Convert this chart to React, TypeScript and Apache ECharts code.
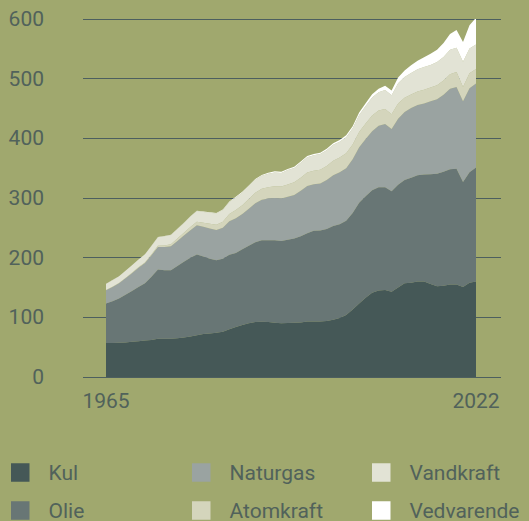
import React, { useEffect, useRef } from "react";
import * as echarts from "echarts";

const years: string[] = Array.from({ length: 58 }, (_, i) => String(1965 + i));

const kul = [
  57, 57, 57.5, 58, 59, 60, 61, 62, 64, 64,
  64, 65, 66, 68, 70, 72, 73, 74, 76, 80,
  84, 87, 90, 92, 92.5, 92, 91, 90, 90.5, 91,
  91.5, 93, 93, 93, 94, 96, 99, 104, 113, 123,
  133, 141, 145, 146, 143, 150, 157, 158, 160, 160,
  156, 152, 153, 155, 155, 151, 158, 160,
];
const olie = [
  66, 70, 74, 80, 85, 91, 96, 106, 116, 115,
  115, 121, 127, 132, 135.5, 130, 125, 121.5, 122, 125,
  124, 127, 130, 134, 136.5, 137, 138, 138, 139.5, 141,
  144.5, 148, 152, 152.5, 154, 157, 157, 158, 162, 169,
  170, 172, 173, 172, 168.5, 172, 173, 176, 178, 179.5,
  184, 188.5, 191, 193, 194, 176, 185, 191,
];
const naturgas = [
  22.5, 24, 25.5, 27.5, 30, 32, 34, 36, 38, 39,
  40, 42, 44, 46, 49, 50, 51, 51, 52, 56,
  58, 59, 62, 65, 68, 70, 71, 71, 72, 73,
  76, 79, 78, 79, 82, 85, 87, 88, 90, 93,
  96, 99, 103, 106, 104, 111, 114, 117, 118, 119,
  122, 125, 129, 135, 137, 135, 141, 141,
];
const atomkraft = [
  0.2, 0.3, 0.4, 0.5, 0.6, 0.8, 1.1, 1.5, 2.0, 2.6,
  3.5, 4.0, 4.8, 5.6, 5.9, 6.5, 7.8, 8.7, 10.0, 12.0,
  14.0, 15.0, 16.5, 17.7, 18.3, 19.0, 19.9, 20.1, 20.8, 21.2,
  22.0, 22.8, 22.6, 23.0, 23.8, 24.3, 24.9, 25.2, 24.8, 25.7,
  25.8, 26.1, 25.5, 25.2, 24.8, 25.4, 24.2, 22.5, 22.6, 23.0,
  23.3, 23.6, 23.9, 24.3, 25.0, 24.0, 25.0, 24.1,
];
const vandkraft = [
  10.5, 11, 11.4, 11.9, 12.5, 13.0, 13.5, 14.0, 14.2, 15.3,
  15.6, 15.9, 16.3, 17.2, 17.9, 18.2, 18.5, 19.0, 19.7, 20.3,
  20.7, 21.0, 21.2, 21.8, 21.8, 22.5, 23.0, 23.0, 24.0, 24.2,
  25.2, 25.5, 26.0, 26.1, 26.3, 26.9, 26.5, 26.8, 26.9, 28.4,
  29.5, 30.5, 30.8, 32.0, 32.0, 34.0, 34.5, 36.0, 37.0, 38.0,
  37.8, 39.0, 39.5, 41.0, 41.0, 42.5, 41.5, 41.0,
];
const vedvarende = [
  0.2, 0.2, 0.2, 0.2, 0.2, 0.3, 0.3, 0.3, 0.3, 0.3,
  0.4, 0.4, 0.4, 0.5, 0.5, 0.6, 0.7, 0.8, 0.9, 1.0,
  1.2, 1.3, 1.4, 1.5, 1.6, 1.7, 1.8, 1.9, 2.0, 2.0,
  2.1, 2.2, 2.3, 2.4, 2.5, 2.6, 2.8, 3.1, 3.5, 4.0,
  4.5, 5.2, 6.0, 7.0, 8.0, 9.5, 11.0, 12.8, 14.5, 16.5,
  18.5, 20.5, 23.5, 26.5, 29.5, 33.0, 39.0, 45.0,
];

const seriesNames = ["Kul", "Olie", "Naturgas", "Atomkraft", "Vandkraft", "Vedvarende"];
const seriesValues = [kul, olie, naturgas, atomkraft, vandkraft, vedvarende];
const seriesColors = ["#455857", "#687675", "#9aa3a1", "#d4d5bc", "#e2e3d5", "#ffffff"];
const xTickLabels = ["1965", "2022"];
const yTicks = { min: 0, max: 600, interval: 100 };

const TEXT = "#51625b";
const FONT = "Roboto";

// legend positions: [left, top] for each series (3 columns x 2 rows)
const legendPos: [number, number][] = [
  [11, 462], [11, 500], [192, 462], [192, 500], [372, 462], [372, 500],
];

export default function App() {
  const ref = useRef<HTMLDivElement>(null);
  useEffect(() => {
    document.body.style.margin = "0";
    if (!ref.current) return;
    const chart = echarts.init(ref.current, undefined, { renderer: "svg" });
    chart.setOption({
      animation: false,
      backgroundColor: "#a0a86e",
      grid: [
        { left: 83, right: 28, top: 19, bottom: 144 },
        { left: 106, right: 53, top: 19, bottom: 144 },
      ],
      legend: seriesNames.map((name, i) => ({
        left: legendPos[i][0],
        top: legendPos[i][1],
        padding: 0,
        icon: "rect",
        itemWidth: 18.5,
        itemHeight: 18.5,
        selectedMode: false,
        data: [name],
        textStyle: { color: TEXT, fontSize: 21, fontFamily: FONT, padding: [0, 0, 0, 14] },
      })),
      xAxis: [
        { type: "value", gridIndex: 0, min: 0, max: 1, show: false },
        {
          type: "category",
          gridIndex: 1,
          data: years,
          boundaryGap: false,
          axisLine: { show: false },
          axisTick: { show: false },
          splitLine: { show: false },
          axisLabel: {
            interval: (_i: number, v: string) => xTickLabels.includes(v),
            color: TEXT,
            fontSize: 21,
            fontFamily: FONT,
            margin: 13,
          },
        },
      ],
      yAxis: [
        {
          type: "value",
          gridIndex: 0,
          min: yTicks.min,
          max: yTicks.max,
          interval: yTicks.interval,
          axisLine: { show: false },
          axisTick: { show: false },
          splitLine: { lineStyle: { color: "#4d5f5f", width: 1.2 } },
          axisLabel: { color: TEXT, fontSize: 21, fontFamily: FONT, margin: 39 },
        },
        {
          type: "value",
          gridIndex: 1,
          min: yTicks.min,
          max: yTicks.max,
          interval: yTicks.interval,
          show: false,
          splitLine: { show: false },
        },
      ],
      series: seriesNames.map((name, i) => ({
        name,
        type: "line",
        xAxisIndex: 1,
        yAxisIndex: 1,
        stack: "total",
        data: seriesValues[i],
        showSymbol: false,
        symbol: "none",
        lineStyle: { width: 0 },
        areaStyle: { color: seriesColors[i], opacity: 1 },
        itemStyle: { color: seriesColors[i] },
        emphasis: { disabled: true },
      })),
    });
    return () => chart.dispose();
  }, []);
  return <div ref={ref} style={{ width: 529, height: 521 }} />;
}
